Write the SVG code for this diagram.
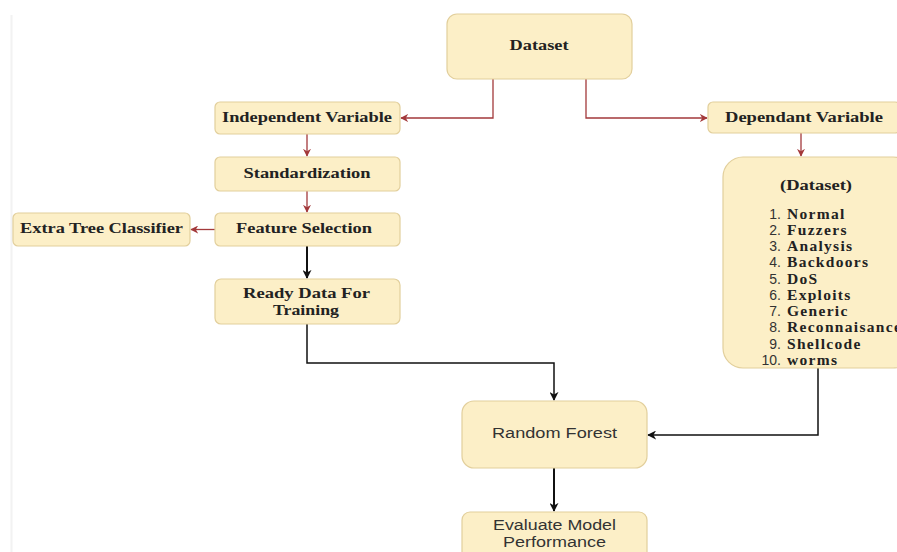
<svg xmlns="http://www.w3.org/2000/svg" width="897" height="552" viewBox="0 0 897 552">
<style>
.box{fill:#fcefc7;stroke:#e2cf9c;stroke-width:1.2}
.t{font-family:"Liberation Serif","Times New Roman",serif;font-weight:bold;font-size:14px;fill:#222;text-anchor:middle}
.s{font-family:"Liberation Sans",Arial,sans-serif;font-size:14px;fill:#333;text-anchor:middle}
.n{font-family:"Liberation Sans",Arial,sans-serif;font-weight:normal;font-size:14px;fill:#333}
.w{font-family:"Liberation Serif","Times New Roman",serif;font-weight:bold;font-size:15.5px;letter-spacing:1.3px;fill:#222}
.red{fill:none;stroke:#a3393b;stroke-width:1.3}
.blk{fill:none;stroke:#111;stroke-width:1.5}
.blk2{fill:none;stroke:#111;stroke-width:2}
</style>
<defs>
<marker id="ar" viewBox="0 0 10 10" refX="9" refY="5" markerWidth="8" markerHeight="8" markerUnits="userSpaceOnUse" orient="auto"><path d="M0,0 L10,5 L0,10 L3,5 Z" fill="#a3393b"/></marker>
<marker id="ab" viewBox="0 0 10 10" refX="9" refY="5" markerWidth="9" markerHeight="9" markerUnits="userSpaceOnUse" orient="auto"><path d="M0,0 L10,5 L0,10 L3,5 Z" fill="#111"/></marker>
</defs>
<rect width="897" height="552" fill="#fff"/>
<line x1="11.5" y1="15" x2="11.5" y2="552" stroke="#f2f2f2" stroke-width="2"/>
<g id="connectors">
<path class="red" d="M493,79 V118 H401" marker-end="url(#ar)"/>
<path class="red" d="M586,79 V118 H707" marker-end="url(#ar)"/>
<path class="red" d="M307,134 V156" marker-end="url(#ar)"/>
<path class="red" d="M307,191 V212" marker-end="url(#ar)"/>
<path class="red" d="M215,229.5 H191" marker-end="url(#ar)"/>
<path class="red" d="M801,133 V156" marker-end="url(#ar)"/>
<path class="blk2" d="M307,246 V278" marker-end="url(#ab)"/>
<path class="blk" d="M307,324 V363 H554 V400" marker-end="url(#ab)"/>
<path class="blk" d="M818,368 V435 H648" marker-end="url(#ab)"/>
<path class="blk2" d="M554,468 V511" marker-end="url(#ab)"/>
</g>
<g id="dataset"><rect class="box" x="447" y="14" width="185" height="65" rx="10"/><text class="t" x="539" y="50" textLength="59" lengthAdjust="spacingAndGlyphs">Dataset</text></g>
<g id="independent"><rect class="box" x="215" y="102" width="185" height="32" rx="5"/><text class="t" x="307" y="122" textLength="170" lengthAdjust="spacingAndGlyphs">Independent Variable</text></g>
<g id="dependant"><rect class="box" x="708" y="102" width="192" height="31" rx="5"/><text class="t" x="804" y="122" textLength="158" lengthAdjust="spacingAndGlyphs">Dependant Variable</text></g>
<g id="standardization"><rect class="box" x="215" y="157" width="185" height="34" rx="5"/><text class="t" x="307" y="178" textLength="127" lengthAdjust="spacingAndGlyphs">Standardization</text></g>
<g id="feature"><rect class="box" x="215" y="213" width="185" height="33" rx="5"/><text class="t" x="304" y="233" textLength="136" lengthAdjust="spacingAndGlyphs">Feature Selection</text></g>
<g id="extratree"><rect class="box" x="13" y="213" width="177" height="33" rx="5"/><text class="t" x="101.5" y="233" textLength="163" lengthAdjust="spacingAndGlyphs">Extra Tree Classifier</text></g>
<g id="ready"><rect class="box" x="215" y="279" width="185" height="45" rx="6"/><text class="t" x="306.5" y="298" textLength="127" lengthAdjust="spacingAndGlyphs">Ready Data For</text><text class="t" x="306" y="315" textLength="66" lengthAdjust="spacingAndGlyphs">Training</text></g>
<g id="classes"><rect class="box" x="723" y="157" width="190" height="211" rx="20"/>
<text class="t" x="816" y="190" textLength="72" lengthAdjust="spacingAndGlyphs">(Dataset)</text>
<text class="n" x="781" y="219" text-anchor="end">1.</text><text class="w" x="787" y="219">Normal</text>
<text class="n" x="781" y="235" text-anchor="end">2.</text><text class="w" x="787" y="235">Fuzzers</text>
<text class="n" x="781" y="251" text-anchor="end">3.</text><text class="w" x="787" y="251">Analysis</text>
<text class="n" x="781" y="267" text-anchor="end">4.</text><text class="w" x="787" y="267">Backdoors</text>
<text class="n" x="781" y="284" text-anchor="end">5.</text><text class="w" x="787" y="284">DoS</text>
<text class="n" x="781" y="300" text-anchor="end">6.</text><text class="w" x="787" y="300">Exploits</text>
<text class="n" x="781" y="316" text-anchor="end">7.</text><text class="w" x="787" y="316">Generic</text>
<text class="n" x="781" y="332" text-anchor="end">8.</text><text class="w" x="787" y="332">Reconnaisance</text>
<text class="n" x="781" y="349" text-anchor="end">9.</text><text class="w" x="787" y="349">Shellcode</text>
<text class="n" x="781" y="365" text-anchor="end">10.</text><text class="w" x="787" y="365">worms</text>
</g>
<g id="randomforest"><rect class="box" x="462" y="401" width="185" height="67" rx="12"/><text class="s" x="554.5" y="438" textLength="125" lengthAdjust="spacingAndGlyphs">Random Forest</text></g>
<g id="evaluate"><rect class="box" x="462" y="512" width="185" height="50" rx="8"/><text class="s" x="554.5" y="530" textLength="123" lengthAdjust="spacingAndGlyphs">Evaluate Model</text><text class="s" x="554.5" y="547" textLength="103" lengthAdjust="spacingAndGlyphs">Performance</text></g>
</svg>
